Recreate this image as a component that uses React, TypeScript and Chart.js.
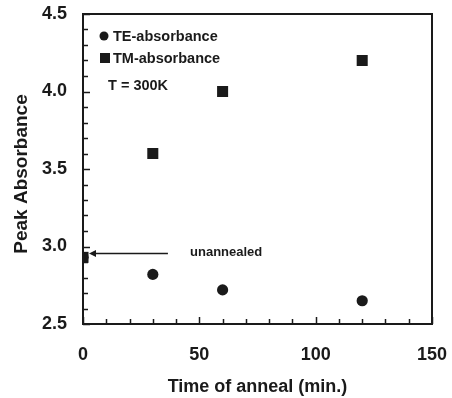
import React, { useEffect, useRef } from "react";
import { Chart, registerables } from "chart.js";

Chart.register(...registerables);

const annealTimes = [0, 30, 60, 120];
const teAbsorbance = [2.93, 2.82, 2.72, 2.65];
const tmAbsorbance = [2.93, 3.6, 4.0, 4.2];

const xTickLabels = [0, 50, 100, 150];
const yTickLabels = [2.5, 3.0, 3.5, 4.0, 4.5];

const yTitle = "Peak Absorbance";
const xTitle = "Time of anneal (min.)";
const legendLabels = ["TE-absorbance", "TM-absorbance"];
const tempNote = "T = 300K";
const arrowNote = "unannealed";
const arrowPoint = { x: 0, y: 2.955 };
const arrowTail = { x: 36.5 };
const arrowTextX = 46;

const FONT = "'Liberation Sans', Arial, Helvetica, sans-serif";
const INK = "#1a1a1a";

const overlayPlugin = {
  id: "overlay",
  afterDatasetsDraw(chart: any) {
    const { ctx, chartArea: a, scales } = chart;
    const xs = scales.x;
    const ys = scales.y;
    ctx.save();
    // frame
    ctx.strokeStyle = INK;
    ctx.lineWidth = 2;
    ctx.strokeRect(a.left, a.top, a.right - a.left, a.bottom - a.top);
    // inward ticks on left axis
    ctx.lineWidth = 1.5;
    const ymin = ys.min, ymax = ys.max;
    for (let i = 0; i <= Math.round((ymax - ymin) / 0.1); i++) {
      const v = ymin + i * 0.1;
      const py = Math.round(ys.getPixelForValue(v)) + 0.5;
      const major = i % 5 === 0;
      ctx.beginPath();
      ctx.moveTo(a.left, py);
      ctx.lineTo(a.left + (major ? 7 : 5), py);
      ctx.stroke();
    }
    // inward ticks on bottom axis
    for (let v = xs.min; v <= xs.max; v += 10) {
      const px = Math.round(xs.getPixelForValue(v)) + 0.5;
      const major = v % 50 === 0;
      ctx.beginPath();
      ctx.moveTo(px, a.bottom);
      ctx.lineTo(px, a.bottom - (major ? 7 : 5));
      ctx.stroke();
    }
    // y-axis title
    ctx.fillStyle = INK;
    ctx.save();
    ctx.translate(27, (a.top + a.bottom) / 2 + 5);
    ctx.rotate(-Math.PI / 2);
    ctx.font = `bold 19px ${FONT}`;
    ctx.textAlign = "center";
    ctx.textBaseline = "alphabetic";
    ctx.fillText(yTitle, 0, 0);
    ctx.restore();
    // legend
    ctx.font = `bold 14.5px ${FONT}`;
    ctx.textBaseline = "alphabetic";
    ctx.textAlign = "left";
    ctx.beginPath();
    ctx.arc(a.left + 21, a.top + 22, 4.5, 0, Math.PI * 2);
    ctx.fill();
    ctx.fillText(legendLabels[0], a.left + 30, a.top + 27);
    ctx.fillRect(a.left + 17, a.top + 39, 10, 10);
    ctx.fillText(legendLabels[1], a.left + 30, a.top + 49);
    ctx.fillText(tempNote, a.left + 25, a.top + 76);
    // arrow annotation
    const hx = xs.getPixelForValue(arrowPoint.x) + 6;
    const hy = ys.getPixelForValue(arrowPoint.y);
    const tx = xs.getPixelForValue(arrowTail.x);
    ctx.lineWidth = 1.5;
    ctx.beginPath();
    ctx.moveTo(tx, hy);
    ctx.lineTo(hx + 4, hy);
    ctx.stroke();
    ctx.beginPath();
    ctx.moveTo(hx, hy);
    ctx.lineTo(hx + 7, hy - 3.5);
    ctx.lineTo(hx + 7, hy + 3.5);
    ctx.closePath();
    ctx.fill();
    ctx.font = `bold 13px ${FONT}`;
    ctx.textBaseline = "alphabetic";
    ctx.fillText(arrowNote, xs.getPixelForValue(arrowTextX), hy + 2.5);
    ctx.restore();
  },
};

export default function App() {
  const ref = useRef<HTMLCanvasElement>(null);
  useEffect(() => {
    if (!ref.current) return;
    const chart = new Chart(ref.current, {
      type: "scatter",
      data: {
        datasets: [
          {
            label: legendLabels[1],
            data: annealTimes.map((t, i) => ({ x: t, y: tmAbsorbance[i] })),
            pointStyle: "rect",
            pointRadius: 7.8,
            pointHoverRadius: 7.8,
            backgroundColor: INK,
            borderColor: INK,
            borderWidth: 0,
          },
          {
            label: legendLabels[0],
            data: annealTimes.map((t, i) => ({ x: t, y: teAbsorbance[i] })),
            pointStyle: "circle",
            pointRadius: 5.6,
            pointHoverRadius: 5.6,
            backgroundColor: INK,
            borderColor: INK,
            borderWidth: 0,
          },
        ],
      },
      options: {
        responsive: false,
        animation: false,
        devicePixelRatio: 1,
        layout: { padding: { left: 0, right: 20, top: 14, bottom: 0 } },
        plugins: { legend: { display: false }, tooltip: { enabled: false } },
        events: [],
        scales: {
          x: {
            type: "linear",
            min: 0,
            max: 150,
            afterBuildTicks: (s: any) => {
              s.ticks = xTickLabels.map((v) => ({ value: v }));
            },
            afterFit: (s: any) => {
              s.height = 74;
              s.paddingLeft = 0;
              s.paddingRight = 0;
            },
            grid: { display: false, drawTicks: false },
            border: { display: false },
            ticks: {
              padding: 20,
              color: INK,
              font: { family: FONT, size: 18, weight: "bold" },
              maxRotation: 0,
            },
            title: {
              display: true,
              text: xTitle,
              color: INK,
              font: { family: FONT, size: 18, weight: "bold" },
              padding: { top: 0, bottom: 0 },
            },
          },
          y: {
            type: "linear",
            min: 2.5,
            max: 4.5,
            afterBuildTicks: (s: any) => {
              s.ticks = yTickLabels.map((v) => ({ value: v }));
            },
            afterFit: (s: any) => {
              s.width = 83;
              s.paddingTop = 0;
              s.paddingBottom = 0;
            },
            grid: { display: false, drawTicks: false },
            border: { display: false },
            ticks: {
              padding: 16,
              color: INK,
              font: { family: FONT, size: 18, weight: "bold" },
              callback: (v: any) => Number(v).toFixed(1),
            },
            title: { display: false, text: yTitle },
          },
        },
      },
      plugins: [overlayPlugin],
    } as any);
    return () => chart.destroy();
  }, []);
  return (
    <canvas
      ref={ref}
      width={452}
      height={398}
      style={{ position: "fixed", left: 0, top: 0, width: 452, height: 398 }}
    />
  );
}
